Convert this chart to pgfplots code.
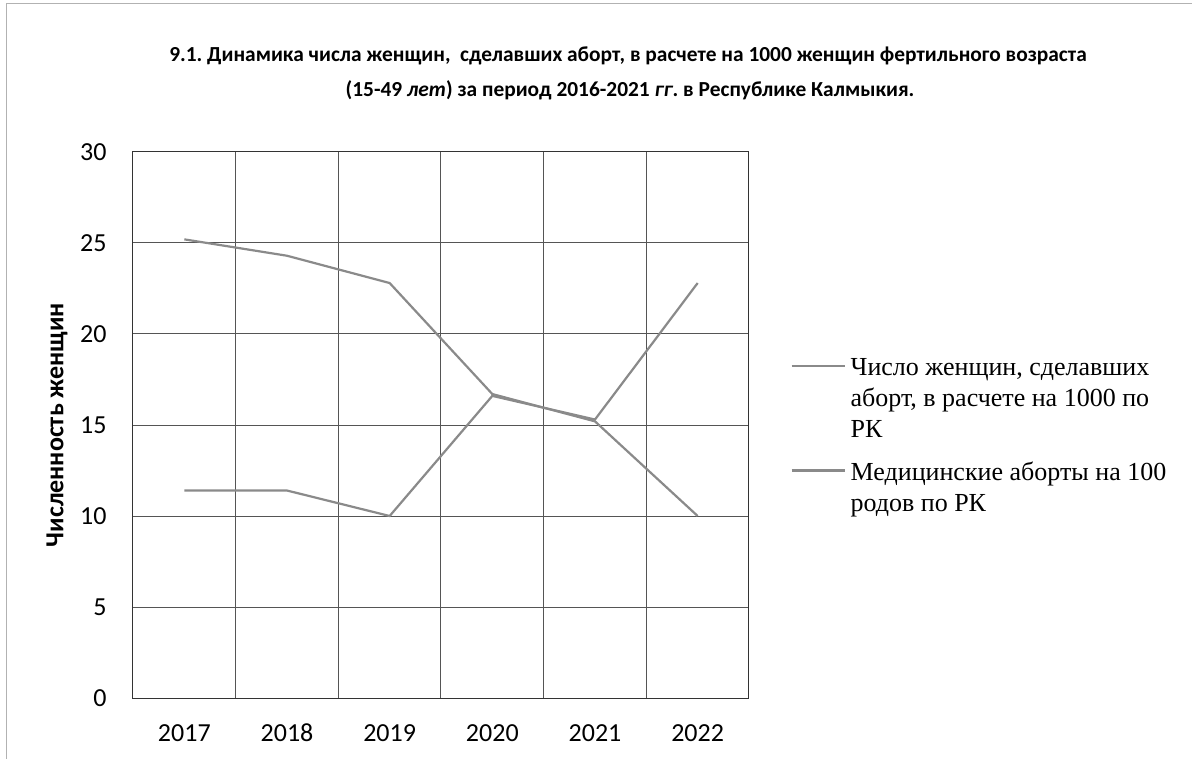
\documentclass[border=0pt]{standalone}
\usepackage{fontspec}
\setmainfont{Liberation Serif}
\newfontfamily\carlito{Carlito}
\usepackage{pgfplots}
\pgfplotsset{compat=1.18}
\frenchspacing

\definecolor{linegray}{HTML}{8A8A8A}
\definecolor{gridgray}{HTML}{555555}

\begin{document}
\begin{tikzpicture}
\useasboundingbox (-66.5pt,-30.5pt) rectangle (529.5pt,349pt);
\draw[gray!60, line width=0.5pt] (-63pt,-30.5pt) -- (-63pt,347pt) -- (529.5pt,347pt);

\begin{axis}[
    at={(0pt,0pt)}, anchor=south west,
    scale only axis,
    width=308pt, height=273pt,
    xmin=-0.5, xmax=5.5,
    ymin=0, ymax=30,
    xtick={0,1,2,3,4,5},
    xticklabels={2017,2018,2019,2020,2021,2022},
    minor xtick={-0.5,0.5,...,5.5},
    ytick={0,5,...,30},
    major tick length=0pt, minor tick length=0pt,
    xminorgrids, ymajorgrids,
    minor grid style={gridgray, line width=0.5pt},
    major grid style={gridgray, line width=0.5pt},
    axis line style={black!80, line width=0.5pt},
    /pgf/number format/assume math mode=true,
    tick label style={font=\carlito\fontsize{13}{15}\selectfont, inner sep=0pt},
    yticklabel style={anchor=east, xshift=-13pt},
    xticklabel style={anchor=base, yshift=-21.75pt},
    ylabel={Численность женщин},
    every axis y label/.style={at={(axis description cs:-0.1234,0.5)}, rotate=90,
        anchor=center, font=\carlito\bfseries\fontsize{13}{15}\selectfont},
    legend style={draw=none, fill=none, at={(1.0666,0.622)}, anchor=north west,
        inner sep=0pt, column sep=2.5pt, row sep=41.5pt,
        font=\fontsize{13}{15.5}\selectfont,
        nodes={inner sep=0pt},
        cells={anchor=base west}},
    legend image code/.code={\draw[#1] (0pt,5pt) -- (26.5pt,5pt);},
]
\addplot[linegray, line width=1.1pt] coordinates {
    (0,25.2) (1,24.3) (2,22.8) (3,16.7) (4,15.2) (5,10.0)
};
\addlegendentry{\parbox[t]{170pt}{\raggedright Число женщин, сделавших\\аборт, в расчете на 1000 по\\РК}}
\addplot[linegray, line width=1.1pt] coordinates {
    (0,11.4) (1,11.4) (2,10.0) (3,16.6) (4,15.3) (5,22.8)
};
\addlegendentry{\parbox[t]{170pt}{\raggedright Медицинские аборты на 100\\родов по РК}}
\end{axis}

\node[font=\carlito\bfseries\fontsize{10.7}{13}\selectfont] at (247.5pt,321pt)
    {9.1. Динамика числа женщин,\ \ сделавших аборт, в расчете на 1000 женщин фертильного возраста};
\node[font=\carlito\bfseries\fontsize{10.7}{13}\selectfont] at (248.5pt,304pt)
    {(15-49 \textit{лет}) за период 2016-2021 \textit{гг}. в Республике Калмыкия.};
\end{tikzpicture}
\end{document}
